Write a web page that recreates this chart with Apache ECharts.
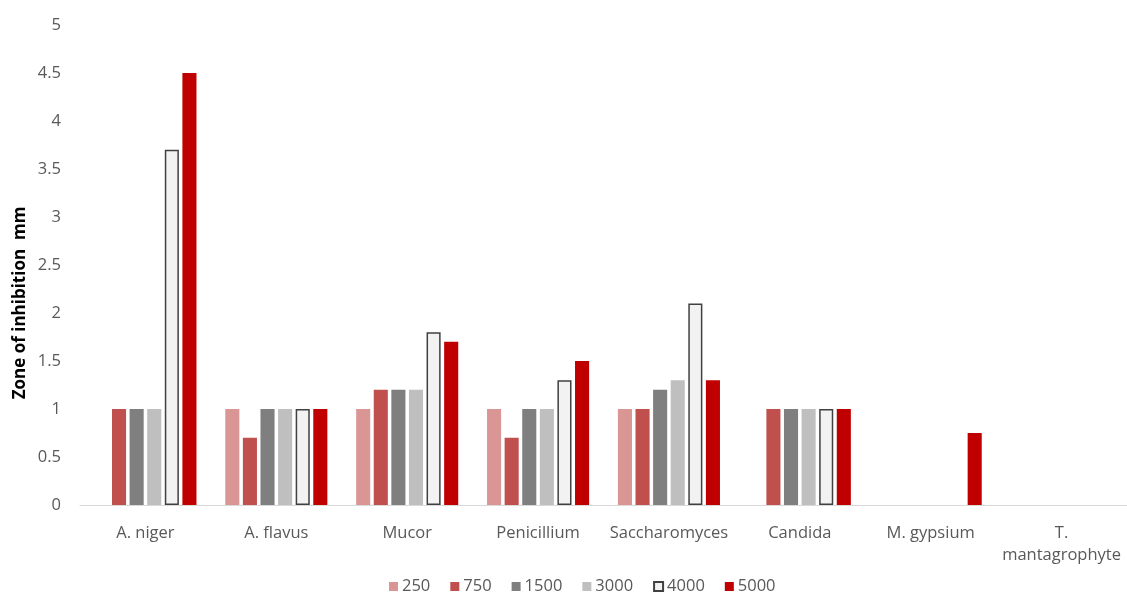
<!DOCTYPE html>
<html>
<head>
<meta charset="utf-8">
<script src="https://cdn.jsdelivr.net/npm/echarts@6/dist/echarts.min.js"></script>
<style>
  html, body { margin: 0; padding: 0; background: #fff; }
  #chart { width: 1127px; height: 593px; }
</style>
</head>
<body>
<div id="chart"></div>
<script>
// categories (organisms)
const categories = ['A. niger', 'A. flavus', 'Mucor', 'Penicillium', 'Saccharomyces', 'Candida', 'M. gypsium', 'T. mantagrophyte'];

// zone of inhibition (mm) per concentration
const c250  = [0,   1,   1,   1,   1,   0,   0,    0];
const c750  = [1,   0.7, 1.2, 0.7, 1,   1,   0,    0];
const c1500 = [1,   1,   1.2, 1,   1.2, 1,   0,    0];
const c3000 = [1,   1,   1.2, 1,   1.3, 1,   0,    0];
const c4000 = [3.7, 1,   1.8, 1.3, 2.1, 1,   0,    0];
const c5000 = [4.5, 1,   1.7, 1.5, 1.3, 1,   0.75, 0];

const yTicks = [0, 0.5, 1, 1.5, 2, 2.5, 3, 3.5, 4, 4.5, 5];

const font = '"Open Sans", "Noto Sans", sans-serif';
const txt = '#595959';

const chart = echarts.init(document.getElementById('chart'));

// 0 in Excel draws nothing, so leave those bars out
function bars(name, vals, color, border) {
    return {
        name: name,
        type: 'bar',
        data: vals.map(v => v === 0 ? '-' : v),
        barGap: '25%',
        barCategoryGap: '22%',
        itemStyle: border
            ? { color: color, borderColor: border, borderWidth: 1.5 }
            : { color: color },
        emphasis: { disabled: true }
    };
}

chart.setOption({
    animation: false,
    textStyle: { fontFamily: font },
    grid: { left: 80, right: 0, top: 25, bottom: 88 },
    legend: {
        top: 573,
        left: 384,
        itemWidth: 9,
        itemHeight: 9,
        itemGap: 20,
        icon: 'rect',
        textStyle: { color: txt, fontSize: 16.5, fontFamily: font, padding: [0, 0, 0, -1] },
        data: ['250', '750', '1500', '3000', '4000', '5000']
    },
    xAxis: {
        type: 'category',
        data: categories,
        axisLine: { lineStyle: { color: '#d9d9d9', width: 1 } },
        axisTick: { show: false },
        axisLabel: {
            color: txt,
            fontSize: 16.5,
            margin: 17,
            interval: 0,
            lineHeight: 22,
            formatter: v => v.length > 14 ? v.replace(' ', '\n') : v
        }
    },
    yAxis: {
        type: 'value',
        min: yTicks[0],
        max: yTicks[yTicks.length - 1],
        interval: 0.5,
        axisLine: { show: false },
        axisTick: { show: false },
        splitLine: { show: false },
        axisLabel: { color: txt, fontSize: 16.5, margin: 19 }
    },
    graphic: [{
        type: 'text',
        x: 20,
        y: 303,
        rotation: Math.PI / 2,
        style: {
            text: 'Zone of inhibition  mm',
            font: 'bold 17px ' + font,
            fill: '#000',
            align: 'center',
            verticalAlign: 'middle'
        }
    }],
    series: [
        bars('250', c250, '#da9694'),
        bars('750', c750, '#c0504d'),
        bars('1500', c1500, '#7f7f7f'),
        bars('3000', c3000, '#bfbfbf'),
        bars('4000', c4000, '#f2f2f2', '#404040'),
        bars('5000', c5000, '#c00000')
    ]
});
</script>
</body>
</html>
